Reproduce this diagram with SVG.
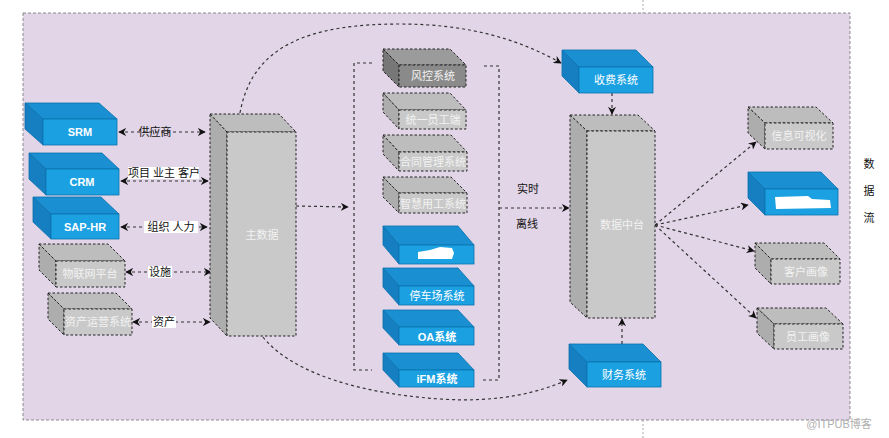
<svg xmlns="http://www.w3.org/2000/svg" width="889" height="438" viewBox="0 0 889 438">
<defs>
<style>
text{font-family:"Liberation Sans","Noto Sans CJK SC",sans-serif;font-size:11px;text-anchor:middle;dominant-baseline:central}
.wt{fill:#ffffff}
.bw{fill:#ffffff;font-weight:bold}
.gw{fill:#f2f2f2}
.bf{fill:#1ba1e2;stroke:#0b72ad;stroke-width:0.8}
.bt{fill:#1a8fd2;stroke:#0b72ad;stroke-width:0.8}
.bl{fill:#167fc2;stroke:#0b72ad;stroke-width:0.8}
.gf{fill:#c9c9c9;stroke:#222;stroke-width:1;stroke-dasharray:2.5,2}
.gt{fill:#bdbdbd;stroke:#222;stroke-width:1;stroke-dasharray:2.5,2}
.gl{fill:#adadad;stroke:#222;stroke-width:1;stroke-dasharray:2.5,2}
.df{fill:#8a8a8a;stroke:#222;stroke-width:1;stroke-dasharray:2.5,2}
.dt{fill:#9b9b9b;stroke:#222;stroke-width:1;stroke-dasharray:2.5,2}
.dl{fill:#777777;stroke:#222;stroke-width:1;stroke-dasharray:2.5,2}
.c{fill:none;stroke:#333;stroke-width:1.2;stroke-dasharray:3,3}
.lb{fill:#ffffff}
</style>
<marker id="arr" viewBox="0 0 10 10" refX="9" refY="5" markerWidth="8" markerHeight="8" markerUnits="userSpaceOnUse" orient="auto-start-reverse">
<path d="M0,0 L10,5 L0,10 L3,5 z" fill="#111"/>
</marker>
</defs>

<rect x="0" y="0" width="889" height="438" fill="#ffffff"/>
<line x1="643" y1="0" x2="643" y2="13" stroke="#aaa" stroke-width="1" stroke-dasharray="2,2"/>
<line x1="643" y1="420" x2="643" y2="438" stroke="#aaa" stroke-width="1" stroke-dasharray="2,2"/>
<rect id="frame" x="23" y="13" width="827" height="407" fill="#e1d5e7" stroke="#8a8a8a" stroke-width="1" stroke-dasharray="3,2"/>

<g id="connectors">
<line class="c" x1="119" y1="132" x2="205" y2="132" marker-start="url(#arr)" marker-end="url(#arr)"/>
<line class="c" x1="121" y1="181" x2="208" y2="181" marker-start="url(#arr)" marker-end="url(#arr)"/>
<line class="c" x1="121" y1="227" x2="207" y2="227" marker-start="url(#arr)" marker-end="url(#arr)"/>
<line class="c" x1="126" y1="272" x2="211" y2="272" marker-start="url(#arr)" marker-end="url(#arr)"/>
<line class="c" x1="133" y1="322" x2="210" y2="322" marker-start="url(#arr)" marker-end="url(#arr)"/>
<line class="c" x1="296" y1="206" x2="348" y2="207" marker-end="url(#arr)"/>
<path class="c" d="M372,63 L354,63 L354,370 L372,370"/>
<path class="c" d="M484,66 L499,66 L499,380 L482,380"/>
<line class="c" x1="499" y1="208" x2="569" y2="208" marker-end="url(#arr)"/>
<path class="c" d="M240,113 C252,45 310,24 400,24 C470,24 520,40 561,63" marker-end="url(#arr)"/>
<path class="c" d="M263,337 C285,365 340,392 440,399 C500,403 540,392 567,380" marker-end="url(#arr)"/>
<line class="c" x1="612" y1="93" x2="612" y2="114" marker-end="url(#arr)"/>
<line class="c" x1="622" y1="344" x2="622" y2="319" marker-end="url(#arr)"/>
<line class="c" x1="655" y1="225" x2="756" y2="142" marker-end="url(#arr)"/>
<line class="c" x1="655" y1="225" x2="748" y2="205" marker-end="url(#arr)"/>
<line class="c" x1="655" y1="225" x2="754" y2="251" marker-end="url(#arr)"/>
<line class="c" x1="655" y1="225" x2="756" y2="318" marker-end="url(#arr)"/>
<text x="155" y="132" fill="#111">供应商</text>
<rect class="lb" x="128" y="167" width="71" height="12"/>
<text x="164" y="173" fill="#111">项目 业主 客户</text>
<rect class="lb" x="144" y="221" width="54" height="12"/>
<text x="171" y="227" fill="#111">组织 人力</text>
<rect class="lb" x="148" y="266" width="24" height="12"/>
<text x="160" y="272" fill="#111">设施</text>
<rect class="lb" x="152" y="316" width="24" height="12"/>
<text x="164" y="322" fill="#111">资产</text>
<text x="528" y="189" fill="#111">实时</text>
<text x="527" y="224" fill="#111">离线</text>
</g>

<g id="srm">
<polygon class="bt" points="25,103 99,103 117,119 43,119"/>
<polygon class="bl" points="25,103 43,119 43,145 25,129"/>
<rect class="bf" x="43" y="119" width="74" height="26"/>
<text class="bw" x="80" y="132">SRM</text>
</g>
<g id="crm">
<polygon class="bt" points="29,153 102,153 119,169 46,169"/>
<polygon class="bl" points="29,153 46,169 46,195 29,179"/>
<rect class="bf" x="46" y="169" width="73" height="26"/>
<text class="bw" x="82" y="182">CRM</text>
</g>
<g id="saphr">
<polygon class="bt" points="33,197 101,197 119,214 51,214"/>
<polygon class="bl" points="33,197 51,214 51,239 33,222"/>
<rect class="bf" x="51" y="214" width="68" height="25"/>
<text class="bw" x="85" y="227">SAP-HR</text>
</g>
<g id="iot">
<polygon class="gt" points="39,244 108,244 125,261 56,261"/>
<polygon class="gl" points="39,244 56,261 56,287 39,270"/>
<rect class="gf" x="56" y="261" width="69" height="26"/>
<text class="gw" x="90" y="274">物联网平台</text>
</g>
<g id="asset">
<polygon class="gt" points="48,293 116,293 132,309 64,309"/>
<polygon class="gl" points="48,293 64,309 64,335 48,319"/>
<rect class="gf" x="64" y="309" width="68" height="26"/>
<text class="gw" x="98" y="322">资产运营系统</text>
</g>
<g id="masterdata">
<polygon class="gt" points="210,114 279,114 296,132 227,132"/>
<polygon class="gl" points="210,114 227,132 227,336 210,318"/>
<rect class="gf" x="227" y="132" width="69" height="204"/>
<text class="gw" x="262" y="235">主数据</text>
</g>
<g id="risk">
<polygon class="dt" points="383,49 450,49 466,65 399,65"/>
<polygon class="dl" points="383,49 399,65 399,87 383,71"/>
<rect class="df" x="399" y="65" width="67" height="22"/>
<text class="gw" x="433" y="76">风控系统</text>
</g>
<g id="employee">
<polygon class="gt" points="383,93 450,93 466,110 399,110"/>
<polygon class="gl" points="383,93 399,110 399,129 383,112"/>
<rect class="gf" x="399" y="110" width="67" height="19"/>
<text class="gw" x="433" y="120">统一员工端</text>
</g>
<g id="contract">
<polygon class="gt" points="383,135 451,135 467,152 399,152"/>
<polygon class="gl" points="383,135 399,152 399,171 383,154"/>
<rect class="gf" x="399" y="152" width="68" height="19"/>
<text class="gw" x="433" y="162">合同管理系统</text>
</g>
<g id="labor">
<polygon class="gt" points="383,177 451,177 467,193 399,193"/>
<polygon class="gl" points="383,177 399,193 399,213 383,197"/>
<rect class="gf" x="399" y="193" width="68" height="20"/>
<text class="gw" x="433" y="204">智慧用工系统</text>
</g>
<g id="blue1">
<polygon class="bt" points="383,226 458,226 474,245 399,245"/>
<polygon class="bl" points="383,226 399,245 399,264 383,245"/>
<rect class="bf" x="399" y="245" width="75" height="19"/>
<path d="M418,252 L430,250 L440,247 L452,248 L454,253 L452,259 L418,259 Z" fill="#ffffff"/>
</g>
<g id="parking">
<polygon class="bt" points="383,268 458,268 474,286 399,286"/>
<polygon class="bl" points="383,268 399,286 399,305 383,287"/>
<rect class="bf" x="399" y="286" width="75" height="19"/>
<text class="wt" x="437" y="296">停车场系统</text>
</g>
<g id="oa">
<polygon class="bt" points="383,310 458,310 474,327 399,327"/>
<polygon class="bl" points="383,310 399,327 399,345 383,328"/>
<rect class="bf" x="399" y="327" width="75" height="18"/>
<text class="bw" x="437" y="337">OA系统</text>
</g>
<g id="ifm">
<polygon class="bt" points="383,353 458,353 474,370 399,370"/>
<polygon class="bl" points="383,353 399,370 399,387 383,370"/>
<rect class="bf" x="399" y="370" width="75" height="17"/>
<text class="bw" x="437" y="379">iFM系统</text>
</g>
<g id="charge">
<polygon class="bt" points="562,50 636,50 653,67 579,67"/>
<polygon class="bl" points="562,50 579,67 579,93 562,76"/>
<rect class="bf" x="579" y="67" width="74" height="26"/>
<text class="wt" x="616" y="80">收费系统</text>
</g>
<g id="datahub">
<polygon class="gt" points="570,115 638,115 655,131 587,131"/>
<polygon class="gl" points="570,115 587,131 587,318 570,302"/>
<rect class="gf" x="587" y="131" width="68" height="187"/>
<text class="gw" x="622" y="225">数据中台</text>
</g>
<g id="finance">
<polygon class="bt" points="569,344 643,344 661,362 587,362"/>
<polygon class="bl" points="569,344 587,362 587,387 569,369"/>
<rect class="bf" x="587" y="362" width="74" height="25"/>
<text class="wt" x="624" y="375">财务系统</text>
</g>
<g id="visual">
<polygon class="gt" points="748,107 816,107 833,123 765,123"/>
<polygon class="gl" points="748,107 765,123 765,149 748,133"/>
<rect class="gf" x="765" y="123" width="68" height="26"/>
<text class="gw" x="799" y="136">信息可视化</text>
</g>
<g id="blue2">
<polygon class="bt" points="748,172 821,172 838,189 765,189"/>
<polygon class="bl" points="748,172 765,189 765,215 748,198"/>
<rect class="bf" x="765" y="189" width="73" height="26"/>
<path d="M775,197 L808,196 L812,199 L830,200 L831,208 L776,209 Z" fill="#ffffff"/>
</g>
<g id="customer">
<polygon class="gt" points="755,243 824,243 840,259 771,259"/>
<polygon class="gl" points="755,243 771,259 771,284 755,268"/>
<rect class="gf" x="771" y="259" width="69" height="25"/>
<text class="gw" x="806" y="272">客户画像</text>
</g>
<g id="staff">
<polygon class="gt" points="757,308 826,308 843,324 774,324"/>
<polygon class="gl" points="757,308 774,324 774,349 757,333"/>
<rect class="gf" x="774" y="324" width="69" height="25"/>
<text class="gw" x="808" y="337">员工画像</text>
</g>

<g id="side-label" fill="#111">
<text x="869" y="164" font-size="12">数</text>
<text x="869" y="191" font-size="12">据</text>
<text x="869" y="218" font-size="12">流</text>
</g>
<text x="839" y="424" font-size="13" fill="#b0b0b0">@ITPUB博客</text>
</svg>
